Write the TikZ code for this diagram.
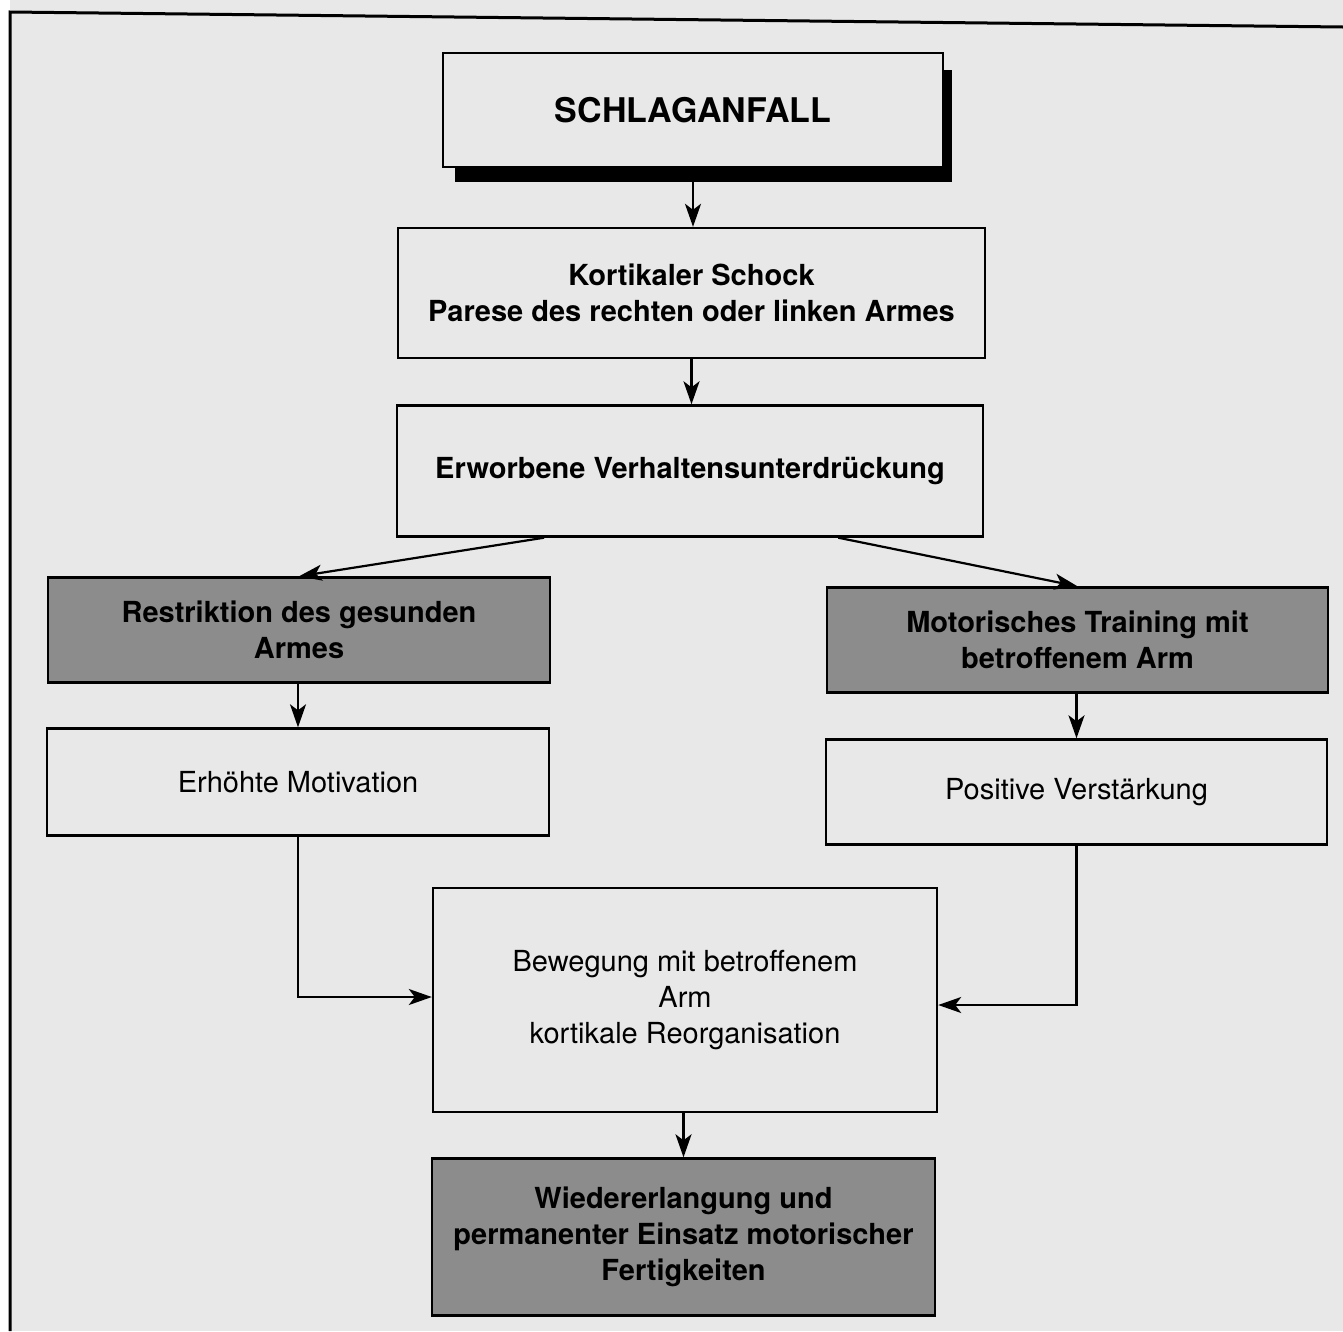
\documentclass[tikz,border=0pt]{standalone}
\usepackage{fontspec}
\setmainfont{TeX Gyre Heros}
\usetikzlibrary{arrows.meta,calc}
\definecolor{paper}{HTML}{E8E8E8}
\definecolor{boxgray}{HTML}{8C8C8C}
\tikzset{
  box/.style={draw=black, line width=2.4pt, fill=paper, align=center, inner sep=0pt,
    font=\fontsize{29}{36}\selectfont},
  boldbox/.style={box, font=\fontsize{29}{36}\selectfont\bfseries},
  graybox/.style={boldbox, fill=boxgray},
  arr/.style={line width=2.2pt, -{Stealth[length=23pt,width=16pt,inset=6pt]}},
}
\begin{document}
\begin{tikzpicture}[x=1pt,y=-1pt]
\useasboundingbox (0,0) rectangle (1343,1331);
\fill[white] (0,0) rectangle (1343,1331);
\fill[paper] (10,0) rectangle (1343,1331);
\draw[line width=3pt] (10,1331) -- (10,12) -- (1343,27);

% top box with shadow
\node[fill=black, draw=none, minimum width=497pt, minimum height=112pt, inner sep=0pt] (sh) at (703.5,126) {};
\node[box, minimum width=500pt, minimum height=114pt, font=\fontsize{34}{40}\selectfont\bfseries] (s) at (693,110) {SCHLAGANFALL};

\node[boldbox, minimum width=587pt, minimum height=130pt] (k) at (691.5,293) {Kortikaler Schock\\Parese des rechten oder linken Armes};
\node[boldbox, minimum width=586pt, minimum height=131pt] (e) at (690,471) {Erworbene Verhaltensunterdrückung};
\node[graybox, minimum width=502pt, minimum height=105pt] (r) at (299,630) {Restriktion des gesunden\\Armes};
\node[graybox, minimum width=501pt, minimum height=105pt] (m) at (1077.5,640) {Motorisches Training mit\\betroffenem Arm};
\node[box, minimum width=502pt, minimum height=107pt] (h) at (298,782) {Erhöhte Motivation};
\node[box, minimum width=501pt, minimum height=105pt] (p) at (1076.5,792) {Positive Verstärkung};
\node[box, minimum width=504pt, minimum height=224pt] (b) at (685,1000) {Bewegung mit betroffenem\\Arm\\kortikale Reorganisation};
\node[graybox, minimum width=503pt, minimum height=157pt] (w) at (683.5,1237) {Wiedererlangung und\\permanenter Einsatz motorischer\\Fertigkeiten};

\draw[arr] (s.south |- sh.south) -- (s.south |- k.north);
\draw[arr] (k.south) -- (k.south |- e.north);
\draw[arr] ($(e.south west)!0.252!(e.south east)$) -- (r.north);
\draw[arr] ($(e.south west)!0.752!(e.south east)$) -- (m.north);
\draw[arr] (h.north |- r.south) -- (h.north);
\draw[arr] (p.north |- m.south) -- (p.north);
\draw[arr] (h.south) |- ([yshift=3pt]b.west);
\draw[arr] (p.south) |- ([yshift=-5pt]b.east);
\draw[arr] (w.north |- b.south) -- (w.north);
\end{tikzpicture}
\end{document}
